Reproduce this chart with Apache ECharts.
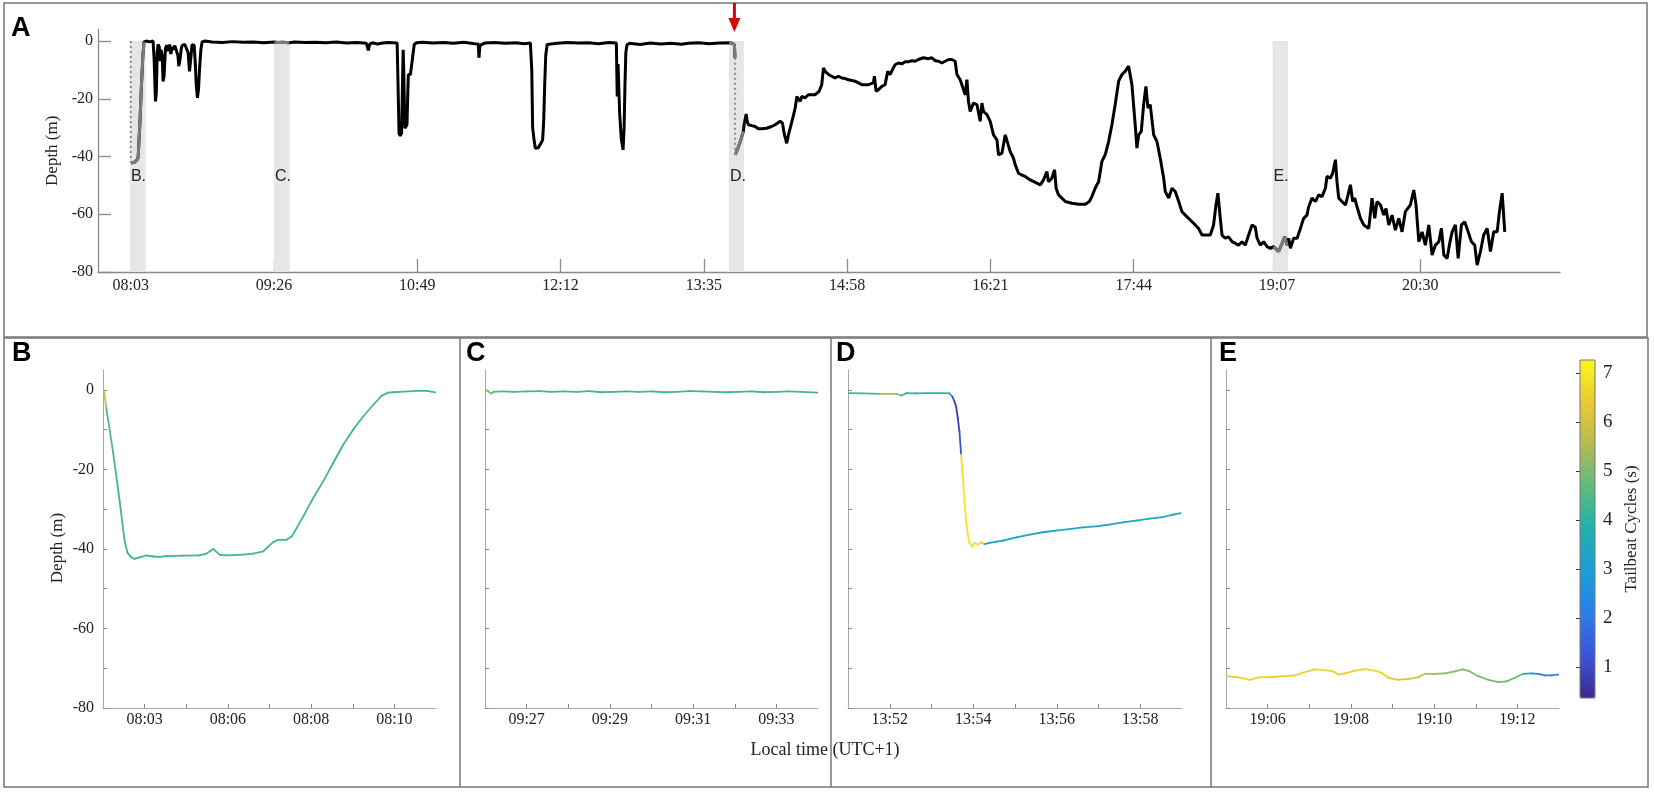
<!DOCTYPE html>
<html style="height: 100%">
<head>
    <meta charset="utf-8">
    <script src="https://cdn.jsdelivr.net/npm/echarts@6/dist/echarts.min.js"></script>
</head>
<body style="height: 100%;margin: 0;background:#fff">
<div id="chart" style="width: 1654px;height: 794px;"></div>
<script type="text/javascript">
// ---- panel A : full depth record (minutes of day, depth m) ----
var depthTraceA = [
    [483.1,-42.3],[484,-42.5],[485,-42],[486,-41.8],[486.9,-41],[487.3,-40],[488.3,-28],[489.2,-15],[490,-5],[490.7,-0.3],
    [492,0],[494,-0.3],[495.9,0],[496.5,-6],[497.3,-20.9],[497.8,-18],[498.3,-4],[498.8,-1.2],[499.5,-2],[500,-7],[500.5,-3],
    [501.2,-5],[501.7,-14],[502.3,-12],[503.1,-2.4],[504,-1.5],[504.6,-3.5],[505.5,-1.2],[506.2,-4.5],[507,-2],[507.5,-3],
    [508.5,-1.6],[509.5,-2.2],[510.3,-5],[510.8,-8.7],[511.6,-6],[512.3,-2.4],[512.8,-1.5],[514.3,-1.2],[515.2,-2.5],[516.2,-4],
    [517,-10.5],[517.6,-7],[518.5,-1.2],[519.7,-1.5],[520.4,-8],[520.9,-15],[521.6,-19.7],[522.2,-17],[522.8,-10],[523.6,-3],[524.3,-0.3],
    [526,0],[530,-0.3],[536,-0.5],[542,-0.2],[548,-0.4],[554,-0.3],[560,-0.6],[566.2,-0.3],[568,-0.5],[571,-0.4],[574.8,-0.6],
    [578,-0.3],[584,-0.5],[590,-0.4],[596,-0.6],[602,-0.3],[608,-0.7],[614,-0.5],[619.5,-0.8],[620.6,-3.2],[621.5,-1],[623,-0.6],
    [626,-1],[629,-0.7],[632,-0.5],[635,-0.6],[637.3,-0.7],
    [638,-20],[638.4,-32],[639.1,-32.8],[639.9,-31.9],[640.4,-15],[640.8,-3],[641.2,-12],[641.8,-30.2],[642.4,-30],[643,-29],
    [643.4,-20],[643.8,-11.6],[645,-11.6],[645.7,-12],[646.4,-5],[647.2,-1.2],[648.5,-0.6],[652,-0.4],[658,-0.7],[664,-0.5],
    [670,-0.8],[676,-0.4],[682,-0.9],[684.3,-1],[684.7,-5.8],[685.3,-1.5],[688,-0.7],[694,-0.5],[700,-0.8],[706,-0.6],[711,-0.9],[714.5,-0.7],
    [715.3,-10],[715.8,-30],[716.6,-34],[717.3,-37.1],[718.1,-37.7],[719,-37],[720,-36.5],[721,-35],[721.6,-34.2],[722.2,-28],
    [722.8,-15],[723.4,-5],[724.2,-1.2],[725.3,-0.6],[730,-0.8],[736,-0.5],[742,-0.7],[748,-0.6],[754,-0.9],[760,-0.5],[764.3,-0.7],
    [764.8,-19.2],[765.3,-8],[766.2,-25],[767.2,-34],[768.2,-37.7],[768.8,-30],[769.3,-15],[769.8,-4],[770.5,-1.2],[772,-0.8],
    [778,-1.2],[784,-0.7],[790,-1],[796,-0.8],[802,-1.1],[806,-0.8],[812,-0.6],[818,-0.9],[824,-0.7],[829.6,-0.6],
    [831,-0.7],[832.7,-1.2],[833,-5.8],[833.1,null],[833.2,-39.4],[834.5,-37.5],[836,-35],[837.9,-31.3],
    [838.3,-29],[839.5,-25.3],[840.2,-28],[840.8,-29],[842.7,-29.3],[844.7,-29.6],[846.6,-30.4],[848.5,-30.4],[851.4,-30.2],
    [854.3,-29.6],[856.3,-29],[859.2,-27.8],[860.5,-28.4],[861.7,-32.5],[863,-35.4],[864,-32.5],[865.5,-29],[867,-25.5],
    [867.9,-23.2],[868.9,-19.2],[869.8,-18.6],[870.8,-20.9],[871.7,-19.2],[873.6,-19.7],[875.5,-18.6],[879.4,-18.6],[881.8,-17.4],
    [883.3,-15.1],[884.3,-9.3],[885.3,-10.5],[887.2,-11.6],[889.1,-12.2],[891,-12.8],[892.9,-12.2],[894.9,-12.8],[896.8,-13],
    [898.8,-13.4],[902.6,-13.9],[906.5,-15.1],[910.4,-15.1],[913.2,-14.5],[913.8,-12.2],[914.8,-17.4],[916.2,-16.8],[918.1,-15.7],
    [920,-15.1],[921.5,-10.5],[922.9,-11.6],[924.8,-9.3],[925.8,-8.2],[927.7,-7.6],[929.7,-7.9],[931.6,-7.2],[933.5,-7.2],
    [935.5,-6.8],[937.4,-7],[939.3,-6.4],[942.2,-5.8],[945.1,-6.1],[947.1,-5.8],[949,-6.8],[951,-7],[952.9,-7.6],[954.8,-7],
    [956.8,-6.4],[958.7,-6.4],[960.6,-7],[961.6,-11.6],[963.5,-13.4],[965.4,-16.8],[966.4,-18.6],[967.4,-13.4],[968.3,-20.9],
    [969.3,-24.4],[971.2,-21.5],[973.2,-22],[975.1,-27.8],[976.1,-21.5],[977,-24.4],[979,-25.5],[980.9,-27.8],[982.8,-32.5],
    [984.8,-34.2],[985.7,-39.4],[987.7,-38.8],[989.6,-32.5],[990.6,-31.9],[992.5,-38.3],[994.4,-40.6],[995.4,-42.9],[997.3,-45.8],
    [999.2,-46.4],[1001.2,-46.9],[1004.1,-48.1],[1007.9,-49.2],[1009.9,-49.8],[1011.8,-48.1],[1013.7,-45.2],[1014.7,-48.7],
    [1016.6,-47.5],[1018.2,-44.6],[1019.1,-51],[1020.5,-53.3],[1022.4,-54.4],[1024.4,-55.6],[1028.2,-56.2],[1032.1,-56.5],
    [1036,-56.5],[1038.3,-55.6],[1039.8,-53.9],[1041.7,-51],[1043.7,-48.7],[1045.6,-41.7],[1047.5,-39.4],[1049.5,-34.8],
    [1051.4,-29],[1053.3,-22],[1055.3,-13.9],[1057.2,-11.6],[1059.1,-10.5],[1061.1,-8.7],[1062,-8.2],[1063,-15.1],[1064.9,-29],
    [1065.9,-37.1],[1066.9,-32.5],[1068.4,-31.3],[1069.8,-22],[1071.1,-15.7],[1072.3,-23.2],[1073.6,-22],[1075.6,-32.5],
    [1077.5,-34.8],[1079.4,-40.6],[1081.4,-47.5],[1082.3,-52.1],[1084.3,-54.4],[1086.2,-51],[1088.1,-52.1],[1090.1,-55.6],
    [1092,-59.1],[1093.9,-60.3],[1095.8,-61.4],[1097.8,-62.6],[1099.7,-63.7],[1101.6,-64.9],[1103.6,-67.2],[1105.5,-67.2],
    [1108.4,-67.2],[1110.3,-63.7],[1111.7,-56.8],[1112.8,-52.7],[1114.2,-61.4],[1115.2,-67.2],[1117.1,-68.3],[1119,-67.8],
    [1121,-69.5],[1122.9,-70.1],[1124.8,-70.7],[1126.8,-69.5],[1128.7,-70.7],[1130.6,-67.2],[1132.6,-63.7],[1134.5,-64.5],
    [1135.5,-68.3],[1137.4,-70.7],[1139.3,-69.5],[1141.3,-71.2],[1143.2,-71.8],[1145.1,-71.2],
    [1146.1,-71.2],[1148,-72.9],[1150,-70.1],[1151.5,-67.8],[1152.9,-70.7],[1153.8,-68.3],
    [1154.8,-71.8],[1156.7,-68.3],[1158.7,-68.3],[1160.6,-64.9],[1162.5,-61.4],[1164.4,-60.3],[1165.4,-57.4],[1167.3,-54.4],
    [1169.3,-55.6],[1171.2,-53.3],[1173.1,-53.9],[1175.1,-51],[1176,-46.9],[1178,-47.5],[1179.3,-45.8],[1180.9,-41.1],
    [1181.8,-48.7],[1182.8,-54.4],[1184.7,-55.6],[1186.7,-56.8],[1188.2,-53.3],[1189.6,-49.8],[1190.9,-55.6],[1192.1,-54.4],
    [1193.4,-57.4],[1195.4,-61.4],[1197.3,-63.7],[1200.2,-64.9],[1202.1,-54.4],[1203.7,-61.4],[1205,-55.6],[1207,-56.8],
    [1208.9,-60.3],[1210.2,-58],[1211.8,-63.7],[1213.7,-60.3],[1215.6,-65.5],[1217.6,-61.4],[1219.5,-66.1],[1221.4,-59.1],
    [1224.3,-56.8],[1226.3,-51.6],[1227.6,-56.8],[1229.2,-69.5],[1231.1,-66.1],[1233,-70.7],[1235,-63.7],[1236.9,-74.1],
    [1238.8,-70.7],[1240.8,-69.5],[1242.3,-64.9],[1243.7,-74.1],[1245.6,-75.3],[1246.9,-70.7],[1248.5,-66.1],[1250.4,-63.7],
    [1252,-75.3],[1253.9,-63.7],[1255.8,-62.6],[1257.8,-66.1],[1259.7,-69.5],[1261.6,-70.7],[1263,-77.6],[1264.9,-72.9],
    [1266.8,-67.2],[1268.8,-64.9],[1270.7,-72.9],[1272.6,-66.1],[1274.6,-66.1],[1275.9,-59.1],[1277.5,-52.7],[1279,-66.1]
];
// vertical dotted drops (time, top depth, bottom depth)
var dropTime = [483, 833.1];
var dropTop = [0, -5.8];
var dropBottom = [-42.3, -39.4];
// highlighted windows shown in panels B-E
var bandStart = [482.5, 566, 829.5, 1144.5];
var bandEnd = [491.5, 575, 838.2, 1153.5];
var bandLabels = ['B.', 'C.', 'D.', 'E.'];
var arrowTime = 832.7;

var aTickValues = [483, 566, 649, 732, 815, 898, 981, 1064, 1147, 1230];
var aTickLabels = ['08:03', '09:26', '10:49', '12:12', '13:35', '14:58', '16:21', '17:44', '19:07', '20:30'];
var depthLabelValues = [-80, -60, -40, -20, 0];
var depthTickValues = [-80, -70, -60, -50, -40, -30, -20, -10, 0];

// ---- panels B-E : x in minutes from window start, depth m, tailbeat cycle s ----
var zoomTickPos = [1, 2, 3, 4, 5, 6, 7];
var zoomLabelPos = [1, 3, 5, 7];
var bTickLabels = ['08:03', '08:06', '08:08', '08:10'];
var cTickLabels = ['09:27', '09:29', '09:31', '09:33'];
var dTickLabels = ['13:52', '13:54', '13:56', '13:58'];
var eTickLabels = ['19:06', '19:08', '19:10', '19:12'];

var bMin = [0.02,0.08,0.24,0.40,0.52,0.59,0.68,0.76,0.88,1.04,1.20,1.36,1.52,1.92,2.32,2.48,2.57,2.65,2.71,2.81,2.97,3.29,3.61,3.85,3.97,4.09,4.21,4.41,4.53,4.65,4.81,5.05,5.29,5.53,5.77,6.01,6.25,6.49,6.69,6.85,6.97,7.13,7.54,7.78,7.98];
var bDepth = [0,-4.6,-15.5,-28,-38,-41,-42.1,-42.5,-42.1,-41.6,-41.9,-42,-41.8,-41.7,-41.6,-41.2,-40.6,-40,-40.6,-41.5,-41.6,-41.5,-41.2,-40.6,-39.4,-38.3,-37.7,-37.7,-36.9,-34.8,-31.8,-27.2,-23,-18.4,-13.8,-10,-6.7,-3.8,-1.5,-0.7,-0.6,-0.5,-0.25,-0.25,-0.6];
var bBeat = [5.8,4.5,4.3,4.3,4.3,4.3,4.2,4.3,4.3,4.4,4.3,4.3,4.2,4.3,4.3,4.4,4.3,4.3,4.3,4.2,4.3,4.3,4.4,4.3,4.3,4.3,4.2,4.3,4.3,4.4,4.3,4.3,4.3,4.2,4.3,4.3,4.4,4.3,4.3,4.3,4.2,4.3,4.3,4.3,4.3];

var cMin = [0.02,0.15,0.2,0.4,0.7,1.0,1.3,1.6,1.9,2.2,2.5,2.8,3.1,3.4,3.7,4.0,4.3,4.6,4.9,5.2,5.5,5.8,6.1,6.4,6.7,7.0,7.3,7.6,7.98];
var cDepth = [0,-0.9,-0.5,-0.4,-0.5,-0.4,-0.3,-0.5,-0.4,-0.5,-0.3,-0.6,-0.5,-0.4,-0.5,-0.4,-0.6,-0.5,-0.3,-0.4,-0.5,-0.6,-0.5,-0.4,-0.6,-0.5,-0.4,-0.5,-0.7];
var cBeat = [5.2,4.4,4.3,4.3,4.4,4.3,4.2,4.3,4.3,4.4,4.3,4.3,4.2,4.3,4.4,4.3,4.3,4.3,4.2,4.3,4.4,4.3,4.3,4.2,4.3,4.3,4.4,4.3,4.3];

var dMin = [0.02,0.36,0.76,1.16,1.28,1.40,1.63,1.95,2.27,2.43,2.50,2.55,2.59,2.63,2.67,2.71,2.75,2.79,2.83,2.87,2.91,2.97,3.03,3.11,3.19,3.27,3.39,3.71,4.03,4.35,4.67,4.98,5.30,5.62,5.94,6.26,6.58,6.90,7.22,7.54,7.78,7.97];
var dDepth = [-0.8,-0.9,-1.0,-1.0,-1.4,-0.8,-0.9,-0.8,-0.8,-0.9,-1.7,-2.9,-4.2,-7.1,-10.5,-16.3,-22.2,-28.1,-33.1,-36.4,-38.5,-39.4,-38.5,-38.9,-38.3,-38.8,-38.5,-37.9,-37.1,-36.4,-35.8,-35.4,-35.0,-34.6,-34.3,-33.9,-33.3,-32.9,-32.4,-32.0,-31.4,-31.0];
var dBeat = [4.2,4.5,5.4,5.2,4.3,4.1,4.0,4.1,4.0,3.6,1.0,0.8,0.7,0.8,1.2,6.8,7.0,7.0,6.9,7.0,6.9,6.8,6.7,6.8,6.5,3.4,3.2,3.3,3.3,3.4,3.2,3.5,3.3,3.4,3.2,3.5,3.4,3.6,3.5,3.8,3.9,3.9];

var eMin = [0.02,0.30,0.58,0.78,1.10,1.42,1.66,1.90,2.14,2.38,2.58,2.70,2.86,3.10,3.34,3.58,3.74,3.90,4.14,4.38,4.62,4.78,5.02,5.26,5.50,5.70,5.86,6.06,6.30,6.54,6.74,6.94,7.14,7.34,7.50,7.66,7.82,7.98];
var eDepth = [-72.0,-72.3,-72.9,-72.3,-72.2,-72.0,-71.8,-70.9,-70.3,-70.5,-70.8,-71.6,-71.3,-70.6,-70.2,-70.6,-71.2,-72.4,-72.9,-72.7,-72.3,-71.4,-71.4,-71.3,-70.8,-70.3,-70.8,-72.0,-72.9,-73.5,-73.3,-72.4,-71.4,-71.3,-71.4,-71.8,-71.8,-71.6];
var eBeat = [6.4,6.5,6.6,6.5,6.4,6.5,6.6,6.5,6.7,6.6,6.5,6.4,6.5,6.6,6.7,6.6,6.5,6.3,6.2,6.1,5.9,5.3,5.2,5.1,5.2,5.1,5.0,4.9,4.9,5.0,4.9,4.7,3.2,2.6,2.2,2.0,2.1,2.0];

var beatRange = [0.37, 7.27];
var beatTicks = [1, 2, 3, 4, 5, 6, 7];
// parula-like colour ramp, evenly spaced from min to max
var parula = ['#3b2a8f', '#3c54dc', '#2b7ee9', '#1b9ed5', '#20b0ae', '#5fba7d', '#b5ba52', '#edc934', '#f9f716'];

var SERIF = 'Liberation Serif';
var SANS = 'Liberation Sans';

function inBand(t) {
    for (var i = 0; i < bandStart.length; i++) {
        if (t >= bandStart[i] && t <= bandEnd[i]) return true;
    }
    return false;
}

// grey part of the trace inside the highlighted windows
var greyData = [];
var lastIdx = -2;
depthTraceA.forEach(function (p, i) {
    if (p[1] === null || !inBand(p[0])) return;
    if (lastIdx !== i - 1 && greyData.length) greyData.push([p[0], null]);
    greyData.push(p);
    lastIdx = i;
});
var dropData = [];
dropTime.forEach(function (t, i) {
    if (i) dropData.push([t, null]);
    dropData.push([t, dropTop[i]]);
    dropData.push([t, dropBottom[i]]);
});

function segData(xs, ys, beats) {
    return xs.map(function (x, i) {
        var j = Math.min(i + 1, xs.length - 1);
        return [x, ys[i], beats[i], xs[j], ys[j]];
    });
}

function segmentItem(params, api) {
    var p1 = api.coord([api.value(0), api.value(1)]);
    var p2 = api.coord([api.value(3), api.value(4)]);
    return {
        type: 'line',
        shape: {x1: p1[0], y1: p1[1], x2: p2[0], y2: p2[1]},
        style: {stroke: api.visual('color'), lineWidth: 1.8, lineCap: 'round'}
    };
}

var zoomGrids = [
    {left: 103, top: 370, width: 333, height: 338},
    {left: 485, top: 370, width: 333, height: 338},
    {left: 848, top: 370, width: 334, height: 338},
    {left: 1226, top: 370, width: 333, height: 338}
];
var zoomLabels = [bTickLabels, cTickLabels, dTickLabels, eTickLabels];
var zoomSets = [[bMin, bDepth, bBeat], [cMin, cDepth, cBeat], [dMin, dDepth, dBeat], [eMin, eDepth, eBeat]];

var grids = [{left: 98, top: 29.5, width: 1462, height: 242.5}].concat(zoomGrids)
    .concat([{left: 1580, top: 360, width: 15, height: 338}]);

var xAxes = [{
    gridIndex: 0, type: 'value', min: 464, max: 1311,
    axisLine: {onZero: false, lineStyle: {color: '#8a8a8a', width: 1.3}},
    axisTick: {inside: true, length: 13, customValues: aTickValues, lineStyle: {color: '#8a8a8a', width: 1.3}},
    axisLabel: {customValues: aTickValues, margin: 6, fontFamily: SERIF, fontSize: 16, color: '#222',
        formatter: function (v) { return aTickLabels[aTickValues.indexOf(v)]; }},
    splitLine: {show: false}
}];
var yAxes = [{
    gridIndex: 0, type: 'value', min: -80, max: 4,
    name: 'Depth (m)', nameLocation: 'middle', nameGap: 31,
    nameTextStyle: {fontFamily: SERIF, fontSize: 17, color: '#222'},
    axisLine: {onZero: false, lineStyle: {color: '#8a8a8a', width: 1.3}},
    axisTick: {inside: true, length: 13, customValues: depthLabelValues, lineStyle: {color: '#8a8a8a', width: 1.3}},
    axisLabel: {customValues: depthLabelValues, margin: 5, fontFamily: SERIF, fontSize: 16, color: '#222'},
    splitLine: {show: false}
}];
zoomGrids.forEach(function (g, k) {
    var labels = zoomLabels[k];
    xAxes.push({
        gridIndex: k + 1, type: 'value', min: 0, max: 8,
        axisLine: {onZero: false, lineStyle: {color: '#a8a8a8', width: 1}},
        axisTick: {inside: true, length: 4, customValues: zoomTickPos, lineStyle: {color: '#888'}},
        axisLabel: {customValues: zoomLabelPos, margin: 4, fontFamily: SERIF, fontSize: 16, color: '#222',
            formatter: function (v) { return labels[zoomLabelPos.indexOf(v)]; }},
        splitLine: {show: false}
    });
    yAxes.push({
        gridIndex: k + 1, type: 'value', min: -80, max: 5,
        name: k === 0 ? 'Depth (m)' : '', nameLocation: 'middle', nameGap: 37,
        nameTextStyle: {fontFamily: SERIF, fontSize: 17, color: '#222', padding: [0, 18, 0, 0]},
        axisLine: {onZero: false, lineStyle: {color: '#a8a8a8', width: 1}},
        axisTick: {inside: true, length: 4, customValues: depthTickValues, lineStyle: {color: '#888'}},
        axisLabel: {show: k === 0, customValues: depthLabelValues, margin: 9, fontFamily: SERIF, fontSize: 16, color: '#222'},
        splitLine: {show: false}
    });
});
// colour bar scale
xAxes.push({gridIndex: 5, type: 'value', show: false});
yAxes.push({
    gridIndex: 5, type: 'value', position: 'right', min: beatRange[0], max: beatRange[1],
    name: 'Tailbeat Cycles (s)', nameLocation: 'middle', nameRotate: 90, nameGap: 28,
    nameTextStyle: {fontFamily: SERIF, fontSize: 17, color: '#222'},
    axisLine: {show: false},
    axisTick: {inside: true, length: 4, customValues: beatTicks, lineStyle: {color: '#333'}},
    axisLabel: {customValues: beatTicks, margin: 8, fontFamily: SERIF, fontSize: 19, color: '#222'},
    splitLine: {show: false}
});

var series = [{
    type: 'line', xAxisIndex: 0, yAxisIndex: 0, data: [], z: 1, silent: true,
    markArea: {
        silent: true,
        itemStyle: {color: '#e6e6e6'},
        label: {show: true, position: [1, 128], formatter: '{b}', fontFamily: SANS, fontSize: 16, color: '#222'},
        data: bandStart.map(function (s, i) {
            return [{xAxis: s, yAxis: 0, name: bandLabels[i]}, {xAxis: bandEnd[i], yAxis: -80}];
        })
    }
}, {
    type: 'line', xAxisIndex: 0, yAxisIndex: 0, data: depthTraceA, z: 3,
    showSymbol: false, connectNulls: false, lineStyle: {color: '#000', width: 3}
}, {
    type: 'line', xAxisIndex: 0, yAxisIndex: 0, data: greyData, z: 4,
    showSymbol: false, connectNulls: false, lineStyle: {color: '#7a7a7a', width: 3}
}, {
    type: 'line', xAxisIndex: 0, yAxisIndex: 0, data: dropData, z: 4,
    showSymbol: false, connectNulls: false, lineStyle: {color: '#8a8a8a', width: 2, type: [2, 3]}
}];
var zoomSeriesIdx = [];
zoomSets.forEach(function (set, k) {
    zoomSeriesIdx.push(series.length);
    series.push({
        type: 'custom', xAxisIndex: k + 1, yAxisIndex: k + 1, z: 3,
        dimensions: ['min', 'depth', 'beat', 'min2', 'depth2'],
        encode: {x: 0, y: 1},
        renderItem: segmentItem,
        data: segData(set[0], set[1], set[2])
    });
});

var graphics = [
    {type: 'rect', shape: {x: 4, y: 3, width: 1643, height: 334}, style: {fill: 'none', stroke: '#777', lineWidth: 1.5}},
    {type: 'rect', shape: {x: 4, y: 338, width: 1644, height: 449}, style: {fill: 'none', stroke: '#777', lineWidth: 1.5}},
    {type: 'line', shape: {x1: 460, y1: 338, x2: 460, y2: 787}, style: {stroke: '#777', lineWidth: 1.5}},
    {type: 'line', shape: {x1: 831, y1: 338, x2: 831, y2: 787}, style: {stroke: '#777', lineWidth: 1.5}},
    {type: 'line', shape: {x1: 1211, y1: 338, x2: 1211, y2: 787}, style: {stroke: '#777', lineWidth: 1.5}},
    {type: 'rect', z: 100, shape: {x: 1580, y: 360, width: 15, height: 338}, style: {fill: 'none', stroke: '#777', lineWidth: 1}},
    {type: 'text', x: 825, y: 750, style: {text: 'Local time (UTC+1)', font: '18px ' + SERIF, fill: '#222', align: 'center', verticalAlign: 'middle'}}
];
[['A', 11, 15], ['B', 12, 340], ['C', 466, 340], ['D', 836, 340], ['E', 1219, 340]].forEach(function (l) {
    graphics.push({type: 'text', x: l[1], y: l[2], style: {text: l[0], font: 'bold 27px ' + SANS, fill: '#000', align: 'left', verticalAlign: 'top'}});
});

var myChart = echarts.init(document.getElementById('chart'));
var option = {
    animation: false,
    backgroundColor: '#fff',
    grid: grids,
    xAxis: xAxes,
    yAxis: yAxes,
    visualMap: {
        type: 'continuous', min: beatRange[0], max: beatRange[1], dimension: 2,
        seriesIndex: zoomSeriesIdx, calculable: false, text: null, padding: 0,
        left: 1580, top: 360, itemWidth: 15, itemHeight: 338,
        inRange: {color: parula}
    },
    series: series,
    graphic: graphics
};
myChart.setOption(option);

// red arrow marking the tagging moment
var tip = myChart.convertToPixel({gridIndex: 0}, [arrowTime, 0]);
graphics.push({type: 'line', z: 100, shape: {x1: tip[0], y1: 3, x2: tip[0], y2: tip[1] - 21}, style: {stroke: '#e00000', lineWidth: 3}});
graphics.push({type: 'polygon', z: 100, shape: {points: [[tip[0] - 6, tip[1] - 23], [tip[0] + 6, tip[1] - 23], [tip[0], tip[1] - 9]]}, style: {fill: '#e00000'}});
myChart.setOption({graphic: graphics});
</script>
</body>
</html>
